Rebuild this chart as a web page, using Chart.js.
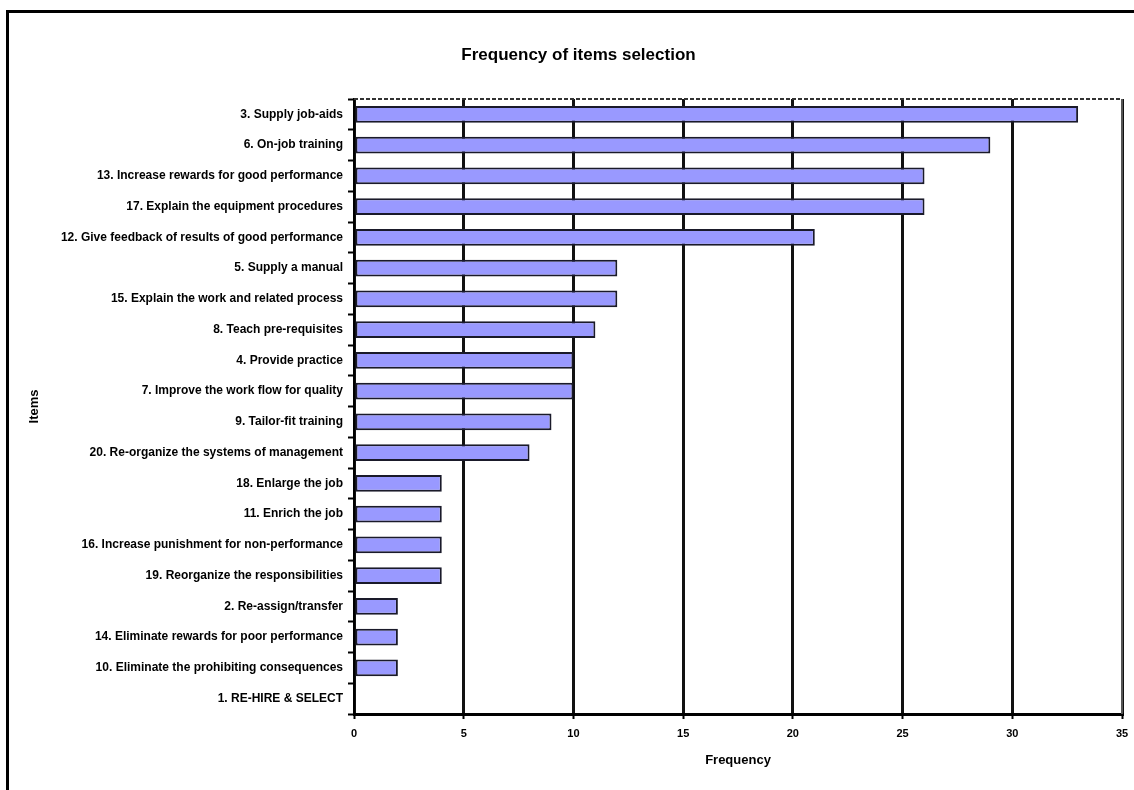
<!DOCTYPE html>
<html>
<head>
<meta charset="utf-8">
<script src="https://cdn.jsdelivr.net/npm/chart.js@4.4.1/dist/chart.umd.min.js"></script>
<style>
html,body{margin:0;padding:0;background:#fff;}
#wrap{position:absolute;left:0;top:0;width:1134px;height:790px;}
#frame{position:absolute;left:6px;top:10px;width:1140px;height:800px;border-left:3px solid #000;border-top:3px solid #000;box-sizing:border-box;pointer-events:none;}
canvas{position:absolute;left:0;top:0;}
</style>
</head>
<body>
<div id="wrap">
<canvas id="c" width="1134" height="790"></canvas>
<div id="frame"></div>
</div>
<script>
const categories = [
  "3. Supply job-aids",
  "6. On-job training",
  "13. Increase rewards for good performance",
  "17. Explain the equipment procedures",
  "12. Give feedback of results of good performance",
  "5. Supply a manual",
  "15. Explain the work and related process",
  "8. Teach pre-requisites",
  "4. Provide practice",
  "7. Improve the work flow for quality",
  "9. Tailor-fit training",
  "20. Re-organize the systems of management",
  "18. Enlarge the job",
  "11. Enrich the job",
  "16. Increase punishment for non-performance",
  "19. Reorganize the responsibilities",
  "2. Re-assign/transfer",
  "14. Eliminate rewards for poor performance",
  "10. Eliminate the prohibiting consequences",
  "1. RE-HIRE & SELECT"
];
const frequency = [33, 29, 26, 26, 21, 12, 12, 11, 10, 10, 9, 8, 4, 4, 4, 4, 2, 2, 2, 0];
const xTicks = [0, 5, 10, 15, 20, 25, 30, 35];

const FONT = "'Liberation Sans', Arial, sans-serif";

const plotFrame = {
  id: 'plotFrame',
  afterDatasetsDraw(chart) {
    const {ctx, chartArea: a} = chart;
    ctx.save();
    ctx.strokeStyle = '#333';
    ctx.lineWidth = 2;
    ctx.setLineDash([4, 2]);
    ctx.beginPath();
    ctx.moveTo(a.left, a.top);
    ctx.lineTo(a.right, a.top);
    ctx.stroke();
    ctx.setLineDash([]);
    ctx.strokeStyle = '#555';
    ctx.lineWidth = 2;
    ctx.beginPath();
    ctx.moveTo(a.right, a.top);
    ctx.lineTo(a.right, a.bottom);
    ctx.stroke();
    ctx.restore();
  }
};

new Chart(document.getElementById('c'), {
  type: 'bar',
  data: {
    labels: categories,
    datasets: [{
      data: frequency,
      backgroundColor: '#9999ff',
      borderColor: '#1a1a2a',
      borderWidth: 2,
      borderSkipped: false,
      categoryPercentage: 1,
      barPercentage: 0.55
    }]
  },
  options: {
    indexAxis: 'y',
    responsive: false,
    animation: false,
    devicePixelRatio: 1,
    layout: {padding: {left: 27, right: 4, top: 0, bottom: 22}},
    plugins: {
      legend: {display: false},
      tooltip: {enabled: false},
      title: {
        display: true,
        text: 'Frequency of items selection',
        color: '#000',
        font: {family: FONT, size: 17, weight: 'bold'},
        padding: {top: 45, bottom: 33.6}
      }
    },
    scales: {
      x: {
        type: 'linear',
        min: 0,
        max: 35,
        afterBuildTicks(scale) { scale.ticks = xTicks.map(v => ({value: v})); },
        afterFit(scale) { scale.height = 54; scale.paddingRight = 12; },
        grid: {
          color: '#111',
          lineWidth: 3,
          drawTicks: true,
          tickLength: 5,
          tickColor: '#000',
          tickWidth: 2
        },
        border: {display: true, color: '#000', width: 3},
        ticks: {
          color: '#000',
          padding: 8,
          font: {family: FONT, size: 11, weight: 'bold'}
        },
        title: {
          display: true,
          text: 'Frequency',
          color: '#000',
          font: {family: FONT, size: 13, weight: 'bold'},
          padding: {top: 10, bottom: 0}
        }
      },
      y: {
        type: 'category',
        afterFit(scale) { scale.width = 327; },
        grid: {
          offset: true,
          drawOnChartArea: false,
          drawTicks: true,
          tickLength: 6,
          tickColor: '#000',
          tickWidth: 2
        },
        border: {display: true, color: '#000', width: 2},
        ticks: {
          color: '#000',
          padding: 5,
          autoSkip: false,
          font: {family: FONT, size: 12, weight: 'bold'}
        },
        title: {
          display: true,
          text: 'Items',
          color: '#000',
          font: {family: FONT, size: 13, weight: 'bold'},
          padding: {top: 0, bottom: 0}
        }
      }
    }
  },
  plugins: [plotFrame]
});
</script>
</body>
</html>
